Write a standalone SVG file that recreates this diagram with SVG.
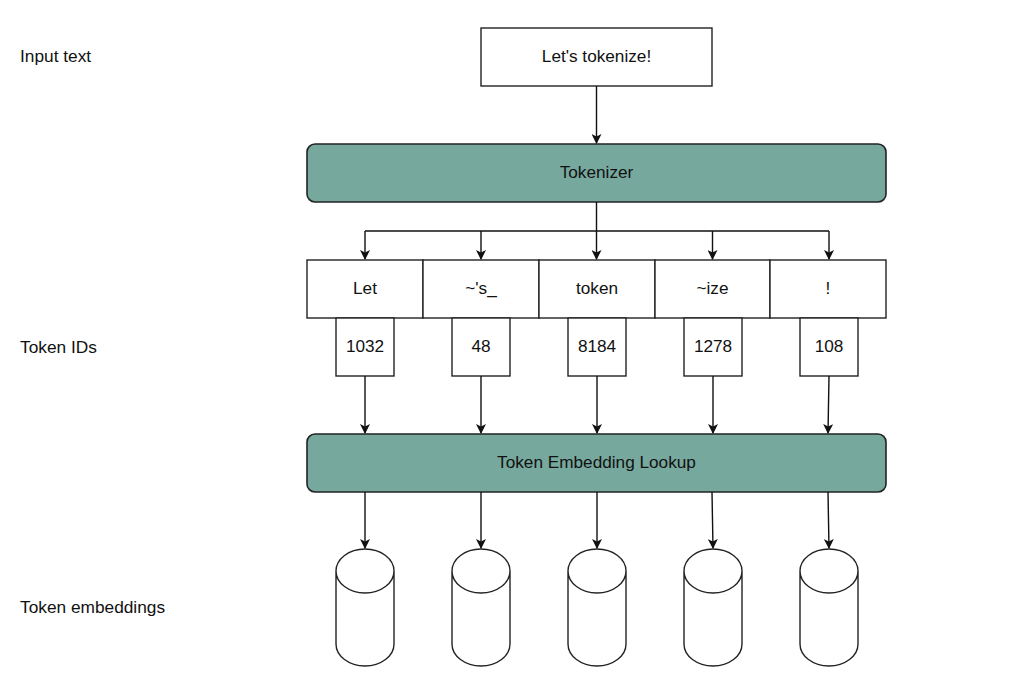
<svg xmlns="http://www.w3.org/2000/svg" width="1024" height="677" viewBox="0 0 1024 677">
<style>
text{font-family:"Liberation Sans",Arial,sans-serif;fill:#111;}
.lbl{font-size:17.3px;}
.t{font-size:17.2px;text-anchor:middle;dominant-baseline:central;}
.box{fill:#fff;stroke:#222;stroke-width:1.4;}
.teal{fill:#77A89D;stroke:#222;stroke-width:1.6;}
.edge{fill:none;stroke:#111;stroke-width:1.4;marker-end:url(#ah);}
.line{fill:none;stroke:#111;stroke-width:1.4;}
</style>
<defs>
<marker id="ah" viewBox="0 0 10 10" refX="9" refY="5" markerWidth="10" markerHeight="10" markerUnits="userSpaceOnUse" orient="auto">
<path d="M0,0 L10,5 L0,10 L2.5,5 Z" fill="#111"/>
</marker>
</defs>
<rect width="1024" height="677" fill="#fff"/>
<g id="labels">
<text class="lbl" x="20" y="62">Input text</text>
<text class="lbl" x="20" y="353">Token IDs</text>
<text class="lbl" x="20" y="613">Token embeddings</text>
</g>
<g id="input">
<rect class="box" x="481" y="28" width="231" height="58"/>
<text class="t" x="596.5" y="56">Let's tokenize!</text>
</g>
<g id="tokenizer">
<rect class="teal" x="307" y="144" width="579" height="58" rx="8"/>
<text class="t" x="596.5" y="172">Tokenizer</text>
</g>
<g id="tok-let"><rect class="box" x="307" y="260" width="116" height="58"/><text class="t" x="365" y="288">Let</text></g>
<g id="tok-s"><rect class="box" x="423" y="260" width="116" height="58"/><text class="t" x="481" y="288">~'s_</text></g>
<g id="tok-token"><rect class="box" x="539" y="260" width="116" height="58"/><text class="t" x="597" y="288">token</text></g>
<g id="tok-ize"><rect class="box" x="655" y="260" width="115" height="58"/><text class="t" x="712.5" y="288">~ize</text></g>
<g id="tok-excl"><rect class="box" x="770" y="260" width="116" height="58"/><text class="t" x="828" y="288">!</text></g>
<g id="id-1032"><rect class="box" x="336" y="318" width="58" height="58"/><text class="t" x="365" y="346">1032</text></g>
<g id="id-48"><rect class="box" x="452" y="318" width="58" height="58"/><text class="t" x="481" y="346">48</text></g>
<g id="id-8184"><rect class="box" x="568" y="318" width="58" height="58"/><text class="t" x="597" y="346">8184</text></g>
<g id="id-1278"><rect class="box" x="684" y="318" width="58" height="58"/><text class="t" x="713" y="346">1278</text></g>
<g id="id-108"><rect class="box" x="800" y="318" width="58" height="58"/><text class="t" x="829" y="346">108</text></g>
<g id="lookup">
<rect class="teal" x="307" y="434" width="579" height="58" rx="8"/>
<text class="t" x="596.5" y="462">Token Embedding Lookup</text>
</g>
<g id="emb-1"><path class="box" d="M336,571 a29,22 0 0 1 58,0 v73 a29,22 0 0 1 -58,0 Z M336,571 a29,22 0 0 0 58,0"/></g>
<g id="emb-2"><path class="box" d="M452,571 a29,22 0 0 1 58,0 v73 a29,22 0 0 1 -58,0 Z M452,571 a29,22 0 0 0 58,0"/></g>
<g id="emb-3"><path class="box" d="M568,571 a29,22 0 0 1 58,0 v73 a29,22 0 0 1 -58,0 Z M568,571 a29,22 0 0 0 58,0"/></g>
<g id="emb-4"><path class="box" d="M684,571 a29,22 0 0 1 58,0 v73 a29,22 0 0 1 -58,0 Z M684,571 a29,22 0 0 0 58,0"/></g>
<g id="emb-5"><path class="box" d="M800,571 a29,22 0 0 1 58,0 v73 a29,22 0 0 1 -58,0 Z M800,571 a29,22 0 0 0 58,0"/></g>
<g id="connectors">
<path class="edge" d="M596.5,86 V143"/>
<path class="line" d="M596.5,202 V231 M365,231 H829"/>
<path class="edge" d="M365,231 V259"/>
<path class="edge" d="M481,231 V259"/>
<path class="edge" d="M596.5,231 V259"/>
<path class="edge" d="M712.5,231 V259"/>
<path class="edge" d="M829,231 V259"/>
<path class="edge" d="M365,376 V433"/>
<path class="edge" d="M481,376 V433"/>
<path class="edge" d="M597,376 V433"/>
<path class="edge" d="M713,376 V433"/>
<path class="edge" d="M829,376 L828,433"/>
<path class="edge" d="M365,492 V548"/>
<path class="edge" d="M481,492 V548"/>
<path class="edge" d="M597,492 V548"/>
<path class="edge" d="M712,492 L713,548"/>
<path class="edge" d="M828,492 L829,548"/>
</g>
</svg>
